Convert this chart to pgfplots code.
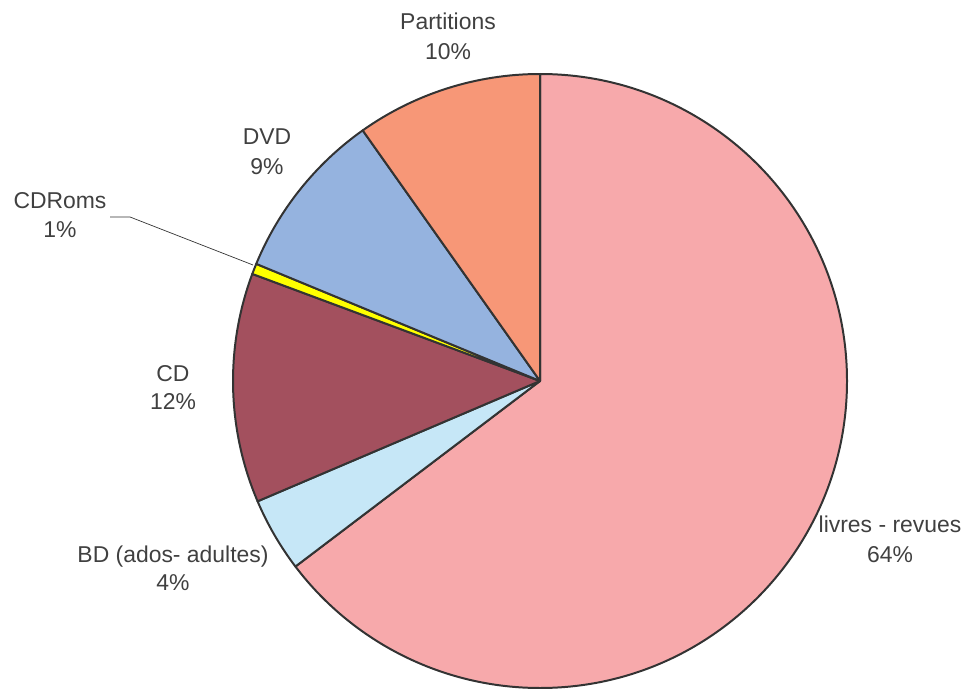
\documentclass[border=0pt]{standalone}
\usepackage{pgfplots}
\usepackage{pgfplotstable}
\usepackage{fontspec}
\setmainfont{Liberation Sans}
\pgfplotsset{compat=1.18}

\definecolor{clivres}{HTML}{F7A9AB}
\definecolor{cbd}{HTML}{C6E7F7}
\definecolor{ccd}{HTML}{A3505E}
\definecolor{ccdroms}{HTML}{FFFF00}
\definecolor{cdvd}{HTML}{95B3DF}
\definecolor{cpart}{HTML}{F79777}
\definecolor{edge}{HTML}{333333}
\definecolor{txt}{HTML}{404040}

\tikzset{lbl/.style={font=\fontsize{23}{29}\selectfont, text=txt, anchor=base, inner sep=0pt}}

% share in percent, clockwise from 12 o'clock
\pgfplotstableread{
name    val    col
livres  64.67  clivres
bd      3.92   cbd
cd      12.08  ccd
cdroms  0.56   ccdroms
dvd     8.97   cdvd
part    9.80   cpart
}\piedata

\begin{document}
\begin{tikzpicture}
\begin{axis}[
    width=969bp, height=688bp,
    scale only axis,
    xmin=0, xmax=969, ymin=0, ymax=688,
    hide axis,
    clip=false,
]
\path (axis cs:0,0) rectangle (axis cs:969,688);
\def\cum{90}
\pgfplotsforeachungrouped \i in {0,...,5}{
    \pgfplotstablegetelem{\i}{val}\of\piedata \let\v\pgfplotsretval
    \pgfplotstablegetelem{\i}{col}\of\piedata \let\c\pgfplotsretval
    \pgfmathsetmacro\endang{\cum-3.6*\v}
    \edef\cmd{\noexpand\filldraw[fill=\c, draw=edge, line width=2pt, line join=round]
        (axis cs:540,307) -- ++(\cum:307bp)
        arc[start angle=\cum, end angle=\endang, radius=307bp] -- cycle;}
    \cmd
    \global\let\cum\endang
}
% leader line for the thin slice
\draw[edge, line width=0.7pt] (axis cs:110,471) -- (axis cs:130,471) -- (axis cs:253,423);

\node[lbl] at (axis cs:890,156) {livres - revues};
\node[lbl] at (axis cs:890,126) {64\%};
\node[lbl] at (axis cs:173,126) {BD (ados- adultes)};
\node[lbl] at (axis cs:173,98) {4\%};
\node[lbl] at (axis cs:173,306) {CD};
\node[lbl] at (axis cs:173,278) {12\%};
\node[lbl] at (axis cs:60,479) {CDRoms};
\node[lbl] at (axis cs:60,450) {1\%};
\node[lbl] at (axis cs:267,543) {DVD};
\node[lbl] at (axis cs:267,513) {9\%};
\node[lbl] at (axis cs:448,658) {Partitions};
\node[lbl] at (axis cs:448,628) {10\%};
\end{axis}
\end{tikzpicture}
\end{document}
